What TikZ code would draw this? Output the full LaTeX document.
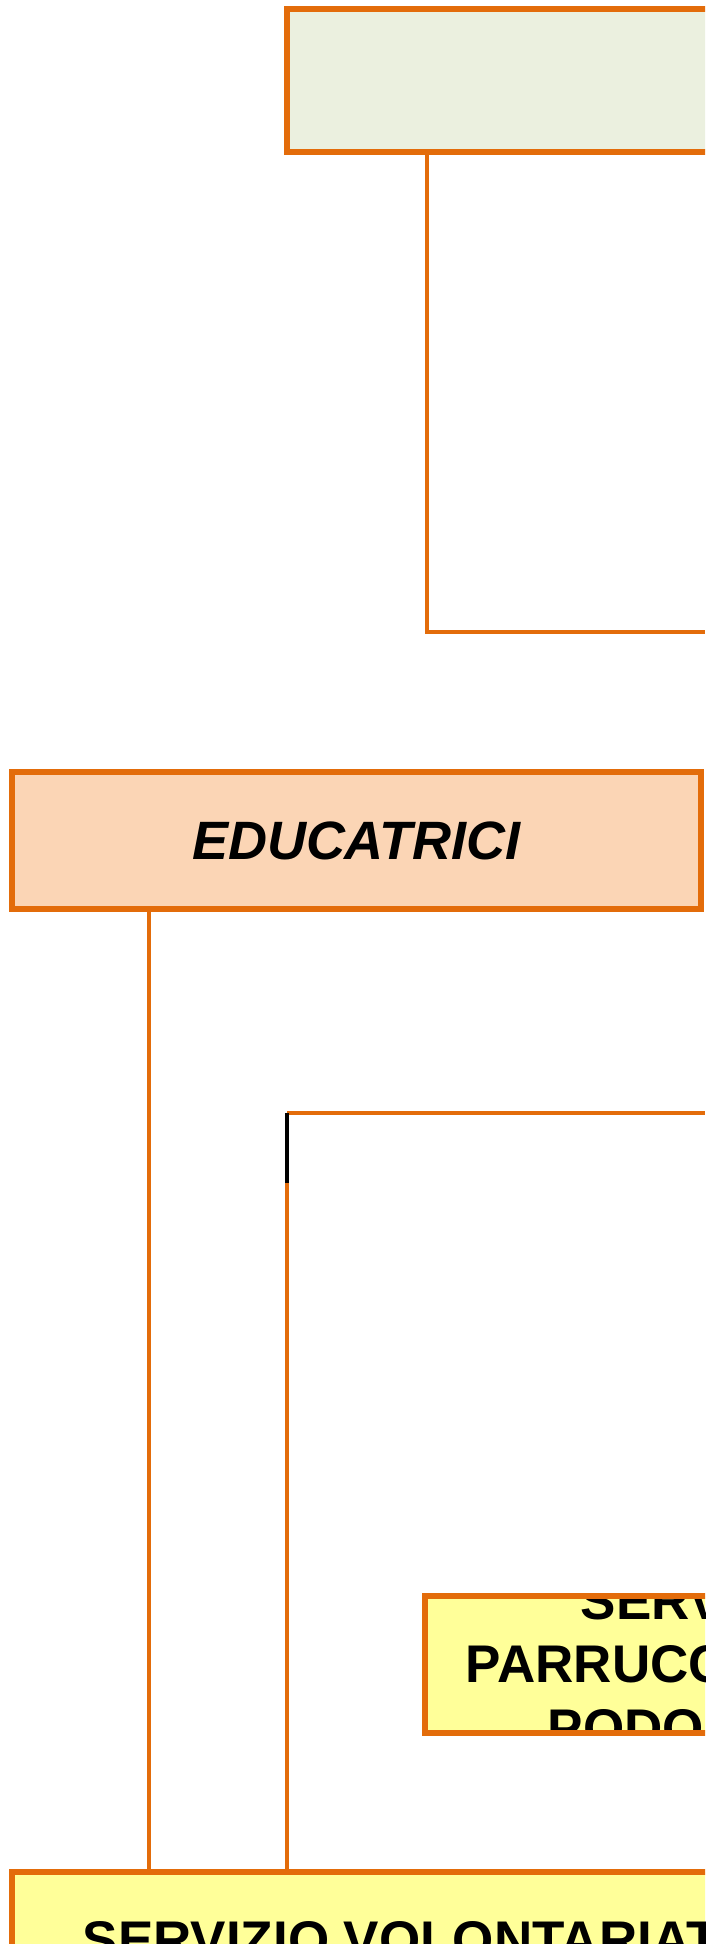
\documentclass[tikz,border=0pt]{standalone}
\usepackage{fontspec}
\setmainfont{Liberation Sans}
\definecolor{boxorange}{HTML}{E36C0A}
\definecolor{topfill}{HTML}{EBF0DF}
\definecolor{edufill}{HTML}{FBD5B5}
\definecolor{yelfill}{HTML}{FFFF99}
\begin{document}
\begin{tikzpicture}[x=1pt,y=-1pt,
  orgbox/.style={draw=boxorange, line width=6pt, rectangle, inner sep=0pt, outer sep=0pt},
  conn/.style={draw=boxorange, line width=3.2pt},
  blackconn/.style={draw=black, line width=3.2pt},
  boxtext/.style={font=\fontsize{53}{63.5}\selectfont\bfseries, align=center, inner sep=0pt}]
\useasboundingbox (0,0) rectangle (705,1944);
\clip (0,0) rectangle (705,1944);

% boxes
\node[orgbox, fill=topfill, minimum width=700pt, minimum height=143pt] (top) at (637,80.5) {};
\node[orgbox, fill=edufill, minimum width=689pt, minimum height=137pt] (edu) at (356.5,840.5) {};
\node[font=\fontsize{54}{60}\selectfont\bfseries\itshape, inner sep=0pt] (edutext) at (356.5,840.5) {EDUCATRICI};
\node[orgbox, fill=yelfill, minimum width=562pt, minimum height=137pt,
  path picture={\node[boxtext] (parrtext) at ([xshift=-2pt]path picture bounding box.center) {SERVIZIO\\PARRUCCHIERA E\\PODOLOGO};}] (parr) at (706,1664.5) {};
\node[orgbox, fill=yelfill, minimum width=818pt, minimum height=137pt] (vol) at (421,1940.5) {};
\node[boxtext] (voltext) at (421,1940.5) {SERVIZIO VOLONTARIATO};

% connector coordinates
\coordinate (c1) at (427,634);
\coordinate (r1) at (705,632);
\coordinate (c2) at (287,1113);
\coordinate (r2) at (705,1113);
\coordinate (c3) at (287,1183);
\coordinate (c4) at (149,900);

% connectors
\draw[conn] (top.south -| c1) -- (c1);
\draw[conn] (c1 |- r1) -- (r1);
\draw[conn] (edu.south -| c4) -- (vol.north -| c4);
\draw[conn] (c2) -- (r2);
\draw[blackconn] (c2) -- (c3);
\draw[conn] (c3) -- (vol.north -| c3);
\end{tikzpicture}
\end{document}
